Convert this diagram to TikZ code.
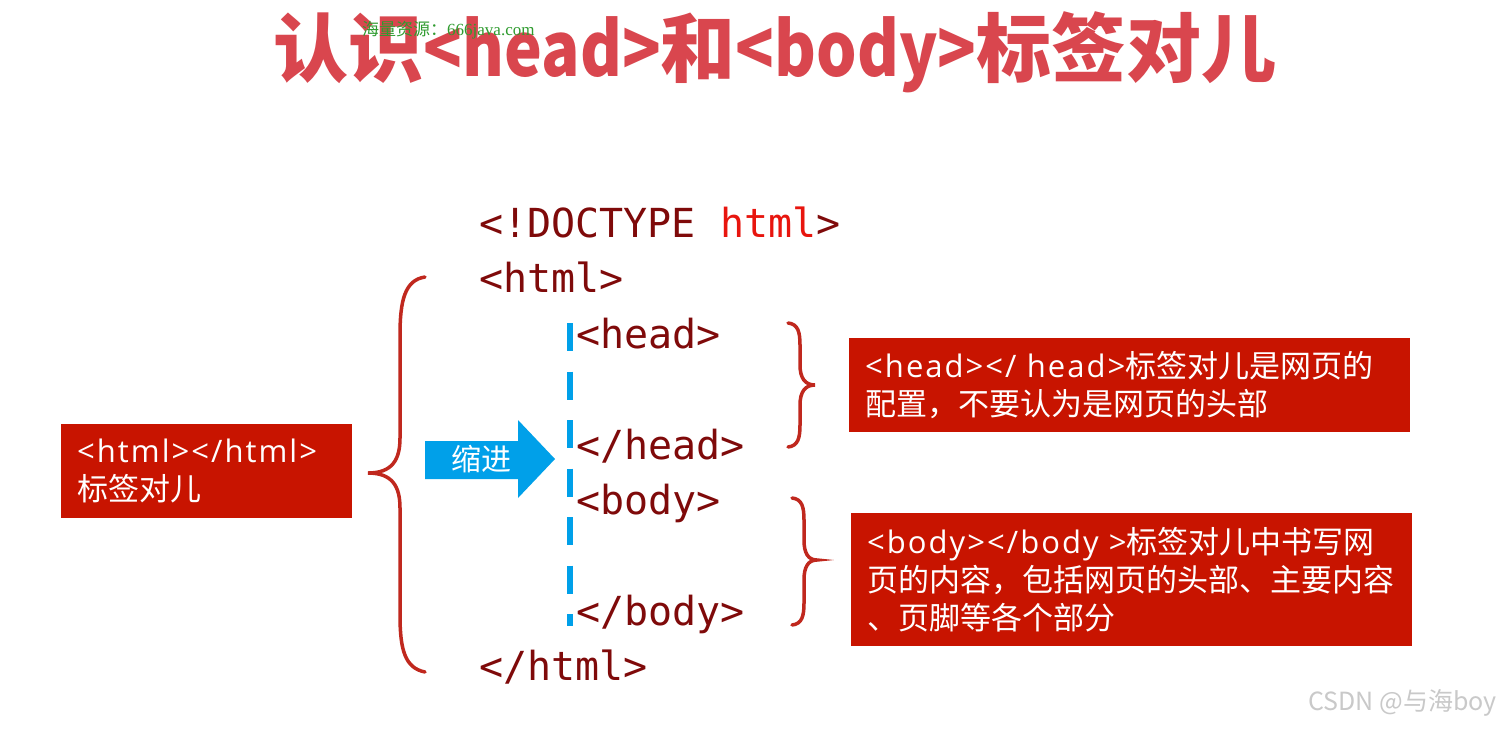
\documentclass[tikz,border=0pt]{standalone}
\usepackage{fontspec}
\setmainfont{Noto Sans CJK SC}
\newfontfamily\cjk{Noto Sans CJK SC}
\newfontfamily\titlelat[FakeStretch=0.85]{Noto Sans CJK SC Bold}
\newfontfamily\codefont{DejaVu Sans Mono}
\newfontfamily\boxlat[LetterSpace=6.5]{Open Sans}
\newfontfamily\markfont{Liberation Serif}
\usetikzlibrary{positioning,calc}
\definecolor{codered}{HTML}{7F0A0A}
\definecolor{keyred}{HTML}{E8150E}
\definecolor{titlered}{HTML}{D9464E}
\definecolor{notered}{HTML}{C81400}
\definecolor{bracered}{HTML}{C0281E}
\definecolor{indent}{HTML}{00A0E9}
\definecolor{markgreen}{HTML}{2E9B2E}
\definecolor{csdngray}{HTML}{C9C9C9}
\tikzset{
  code/.style={font=\codefont\fontsize{40}{46}\selectfont,text=codered,anchor=base west,inner sep=0pt},
  note/.style={fill=notered,text=white,font=\cjk\fontsize{31}{38}\selectfont,align=left,inner xsep=16pt,inner ysep=0pt,anchor=north west},
  bracket/.style={draw=bracered,line width=3.5pt,line cap=round},
  guide/.style={draw=indent,line width=6pt,dash pattern=on 28pt off 20.5pt},
}

\begin{document}
\begin{tikzpicture}[x=1pt,y=-1pt]
\useasboundingbox (0,0) rectangle (1501,729);
\fill[white] (0,0) rectangle (1501,729);

% title and marks
\node[font=\cjk\bfseries\fontsize{75}{88}\selectfont,text=titlered] (title) at (775,52)
  {认识{\titlelat <head>}和{\titlelat <body>}标签对儿};
\node[anchor=west,text=markgreen,inner sep=0pt] (mark) at (362,30) {\cjk\fontsize{17}{20}\selectfont 海量资源：\markfont 666java.com};
\node[anchor=east,text=csdngray,font=\cjk\fontsize{25}{30}\selectfont,inner sep=0pt] (csdn) at (1497,703) {CSDN @与海boy};

% code lines
\node[code] (doctype) at (479,237) {<!DOCTYPE {\color{keyred}html}>};
\node[code] (htmlopen) at (479,292) {<html>};
\node[code] (headopen) at (576,348) {<head>};
\node[code] (headclose) at (576,459) {</head>};
\node[code] (bodyopen) at (576,514) {<body>};
\node[code] (bodyclose) at (576,625) {</body>};
\node[code] (htmlclose) at (479,680) {</html>};

% indent guide
\draw[guide] (570,323) -- (570,626);
\fill[indent] (425,441) -- (518,441) -- (518,420) -- (555,459) -- (518,498) -- (518,479) -- (425,479) -- cycle;
\node[font=\cjk\fontsize{30}{36}\selectfont,text=white] (indentlabel) at (481,459) {缩进};

% braces
\draw[bracket] (425,277) .. controls (405,280) and (400,300) .. (400,335) -- (400,438)
  .. controls (400,460) and (392,473) .. (368,473) .. controls (392,473) and (400,486) .. (400,508)
  -- (400,615) .. controls (400,650) and (405,668) .. (425,672);
\draw[bracket] (788,323) .. controls (798,324) and (800,332) .. (800,345) -- (800,365)
  .. controls (800,378) and (805,385) .. (815,385) .. controls (805,385) and (800,392) .. (800,405)
  -- (800,425) .. controls (800,438) and (798,446) .. (788,447);
\draw[bracket] (792,498) .. controls (802,499) and (804,507) .. (804,520) -- (804,540)
  .. controls (804,553) and (808,560) .. (817,560) .. controls (808,560) and (804,567) .. (804,580)
  -- (804,603) .. controls (804,616) and (802,624) .. (792,625);

% notes
\node[note,minimum width=291pt,minimum height=94pt,text width=259pt] (htmlnote) at (61,424)
  {{\boxlat <html></html>}\\标签对儿};
\node[note,minimum width=561pt,minimum height=94pt,text width=529pt] (headnote) at (849,338)
  {{\boxlat <head></ head>}标签对儿是网页的\\配置，不要认为是网页的头部};
\node[note,minimum width=561pt,minimum height=133pt,text width=529pt] (bodynote) at (851,513)
  {{\boxlat <body></body >}标签对儿中书写网\\页的内容，包括网页的头部、主要内容\\、页脚等各个部分};

\end{tikzpicture}
\end{document}
